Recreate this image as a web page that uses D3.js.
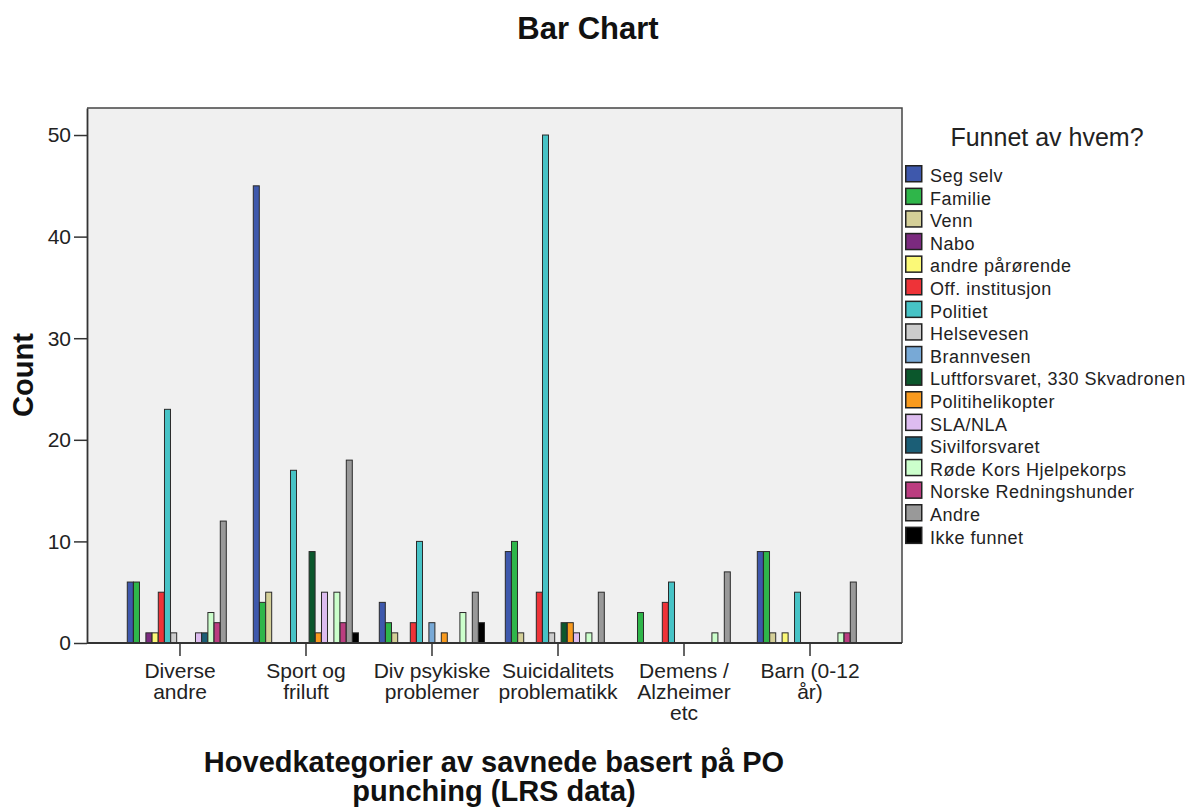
<!DOCTYPE html>
<html>
<head>
<meta charset="utf-8">
<script src="https://cdn.jsdelivr.net/npm/d3@7"></script>
<style>
  html, body { margin: 0; padding: 0; background: #ffffff; }
  svg { display: block; font-family: "Liberation Sans", Arial, sans-serif; }
</style>
</head>
<body>
<svg id="chart" width="1190" height="808"></svg>
<script>
// ---- data ----
const categories = [
  "Diverse\nandre",
  "Sport og\nfriluft",
  "Div psykiske\nproblemer",
  "Suicidalitets\nproblematikk",
  "Demens /\nAlzheimer\netc",
  "Barn (0-12\når)"
];
const seriesNames = [
  "Seg selv", "Familie", "Venn", "Nabo", "andre pårørende", "Off. institusjon",
  "Politiet", "Helsevesen", "Brannvesen", "Luftforsvaret, 330 Skvadronen",
  "Politihelikopter", "SLA/NLA", "Sivilforsvaret", "Røde Kors Hjelpekorps",
  "Norske Redningshunder", "Andre", "Ikke funnet"
];
const seriesColors = [
  "#3e58ac", "#2fb64a", "#d4cf98", "#7b2a7f", "#fbf977", "#ee3338",
  "#47c3c6", "#cccccc", "#78a9d6", "#0b572c", "#f89a1e", "#ddbcf0",
  "#1b5e76", "#ccffcc", "#bb3d80", "#999999", "#000000"
];
// counts per category, in series order
const diverseAndre   = [6, 6, 0, 1, 1, 5, 23, 1, 0, 0, 0, 1, 1, 3, 2, 12, 0];
const sportFriluft   = [45, 4, 5, 0, 0, 0, 17, 0, 0, 9, 1, 5, 0, 5, 2, 18, 1];
const divPsykiske    = [4, 2, 1, 0, 0, 2, 10, 0, 2, 0, 1, 0, 0, 3, 0, 5, 2];
const suicidalitets  = [9, 10, 1, 0, 0, 5, 50, 1, 0, 2, 2, 1, 0, 1, 0, 5, 0];
const demens         = [0, 3, 0, 0, 0, 4, 6, 0, 0, 0, 0, 0, 0, 1, 0, 7, 0];
const barn           = [9, 9, 1, 0, 1, 0, 5, 0, 0, 0, 0, 0, 0, 1, 1, 6, 0];
const categoryValues = [diverseAndre, sportFriluft, divPsykiske, suicidalitets, demens, barn];
const yTicks = [0, 10, 20, 30, 40, 50];

const chartTitle = "Bar Chart";
const yTitle = "Count";
const xTitleLines = ["Hovedkategorier av savnede basert på PO", "punching (LRS data)"];
const legendTitle = "Funnet av hvem?";

// ---- layout ----
const plot = { left: 87, right: 902, top: 108, bottom: 643 };
const svg = d3.select("#chart");

const x = d3.scalePoint().domain(categories).range([plot.left, plot.right]).padding(0.734);
const groupHalf = 52.7;
const xs = d3.scaleBand().domain(d3.range(seriesNames.length)).range([-groupHalf, groupHalf]).padding(0);
const y = d3.scaleLinear().domain([0, 52.66]).range([plot.bottom, plot.top]);

// plot background
svg.append("rect")
  .attr("x", plot.left).attr("y", plot.top)
  .attr("width", plot.right - plot.left).attr("height", plot.bottom - plot.top)
  .attr("fill", "#f0f0f0");

// bars
const barData = [];
categories.forEach((c, ci) => {
  categoryValues[ci].forEach((v, si) => {
    if (v > 0) barData.push({ c, si, v });
  });
});
svg.append("g").selectAll("rect").data(barData).join("rect")
  .attr("x", d => x(d.c) + xs(d.si) + 0.5)
  .attr("y", d => y(d.v))
  .attr("width", xs.bandwidth() - 0.2)
  .attr("height", d => y(0) - y(d.v))
  .attr("fill", d => seriesColors[d.si])
  .attr("stroke", "#2a2a2a")
  .attr("stroke-width", 1);

// frame (top, right)
svg.append("path")
  .attr("d", `M${plot.left},${plot.top}H${plot.right}V${plot.bottom}`)
  .attr("fill", "none").attr("stroke", "#444").attr("stroke-width", 1.5);

// y axis
const yAxis = svg.append("g")
  .attr("transform", `translate(${plot.left},0)`)
  .call(d3.axisLeft(y).tickValues(yTicks).tickSize(13).tickSizeOuter(0).tickPadding(3).tickFormat(d3.format("d")));
yAxis.select(".domain").attr("stroke", "#333").attr("stroke-width", 1.8);
yAxis.selectAll(".tick line").attr("stroke", "#333").attr("stroke-width", 1.5);
yAxis.selectAll(".tick text")
  .attr("font-size", 21).attr("fill", "#222")
  .attr("font-family", "Liberation Sans, Arial, sans-serif")
  .attr("dy", "0.33em");

// x axis
const xAxis = svg.append("g")
  .attr("transform", `translate(0,${plot.bottom})`)
  .call(d3.axisBottom(x).tickSize(13).tickSizeOuter(0).tickFormat(""));
xAxis.select(".domain").attr("stroke", "#333").attr("stroke-width", 1.8)
  .attr("d", `M${plot.left},0H${plot.right}`);
xAxis.selectAll(".tick line").attr("stroke", "#333").attr("stroke-width", 1.5);
xAxis.selectAll(".tick").each(function(d) {
  const lines = d.split("\n");
  const t = d3.select(this).append("text")
    .attr("text-anchor", "middle")
    .attr("font-size", 21)
    .attr("fill", "#222")
    .attr("font-family", "Liberation Sans, Arial, sans-serif");
  lines.forEach((ln, i) => {
    t.append("tspan").attr("x", 0).attr("y", 35 + i * 21).text(ln);
  });
});

// titles
svg.append("text")
  .attr("x", 588).attr("y", 39)
  .attr("text-anchor", "middle")
  .attr("font-size", 31).attr("font-weight", "bold").attr("fill", "#111")
  .text(chartTitle);

svg.append("text")
  .attr("transform", "translate(33,375) rotate(-90)")
  .attr("text-anchor", "middle")
  .attr("font-size", 29).attr("font-weight", "bold").attr("fill", "#111")
  .text(yTitle);

const xt = svg.append("text")
  .attr("text-anchor", "middle")
  .attr("font-size", 29).attr("font-weight", "bold").attr("fill", "#111");
xTitleLines.forEach((ln, i) => {
  xt.append("tspan").attr("x", 494).attr("y", 772 + i * 29).text(ln);
});

// legend
svg.append("text")
  .attr("x", 1047).attr("y", 146)
  .attr("text-anchor", "middle")
  .attr("font-size", 25).attr("fill", "#222")
  .text(legendTitle);

const legend = svg.append("g").selectAll("g").data(seriesNames).join("g")
  .attr("transform", (d, i) => `translate(905,${165 + i * 22.6})`);
legend.append("rect")
  .attr("x", 0.75).attr("y", 0.75).attr("width", 16).attr("height", 16)
  .attr("fill", (d, i) => seriesColors[i])
  .attr("stroke", "#222").attr("stroke-width", 1.5);
legend.append("text")
  .attr("x", 25).attr("y", 17)
  .attr("font-size", 18).attr("letter-spacing", "0.5px").attr("fill", "#222")
  .text(d => d);
</script>
</body>
</html>
